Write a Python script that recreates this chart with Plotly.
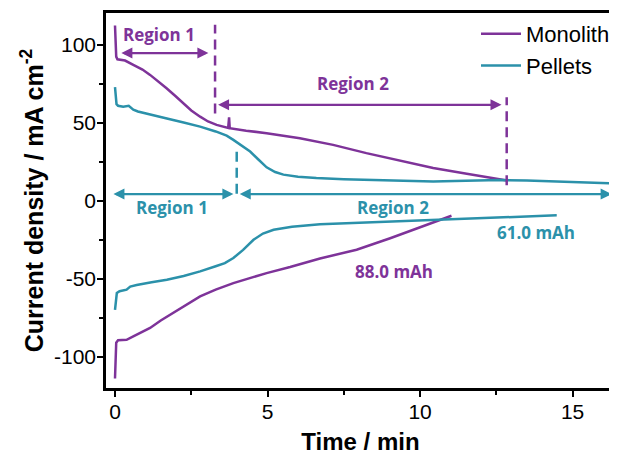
import plotly.graph_objects as go

# ---- data ----
mono_charge_t = [0.0, 0.02, 0.04, 0.08, 0.33, 0.6, 0.9, 1.15, 1.42, 1.69, 1.97, 2.24, 2.5, 2.79, 3.05,
                 3.33, 3.71, 3.74, 3.76, 4.3, 4.97, 6.06, 7.15, 8.24, 9.34, 10.43, 11.53, 12.62, 12.85]
mono_charge_j = [112.5, 100, 92.5, 90.8, 90.0, 87.2, 84.2, 80.8, 76.7, 72.2, 67.4, 62.6, 58.0, 54.0, 50.9,
                 48.7, 46.8, 53.5, 46.6, 45.0, 43.4, 40.2, 35.9, 30.6, 25.8, 21.0, 17.3, 13.9, 13.0]

pel_charge_t = [0.0, 0.02, 0.05, 0.1, 0.27, 0.45, 0.6, 0.75, 1.2, 1.7, 2.25, 2.79, 3.3, 3.66, 3.88,
                4.1, 4.43, 4.7, 4.97, 5.25, 5.52, 6.0, 6.6, 7.5, 8.24, 9.34, 10.43, 11.5, 12.62,
                13.5, 14.5, 15.5, 16.2]
pel_charge_j = [73.0, 66.0, 62.0, 61.0, 60.3, 60.9, 58.5, 57.3, 55.0, 52.8, 50.2, 47.6, 44.5, 41.8, 39.1,
                36.0, 31.6, 26.5, 21.5, 18.5, 16.8, 15.5, 14.6, 13.9, 13.5, 12.8, 12.4, 12.9, 13.3,
                13.0, 12.2, 11.6, 11.3]

mono_dis_t = [0.0, 0.02, 0.04, 0.1, 0.38, 0.6, 1.15, 1.5, 1.9, 2.3, 2.79, 3.3, 3.88, 4.97, 5.74, 6.72,
              7.92, 9.02, 10.1, 11.03]
mono_dis_j = [-114, -100, -91, -89.5, -89.2, -87.0, -81.6, -76.8, -72.0, -67.0, -61.3, -57.0, -52.8,
              -46.4, -42.5, -37.0, -31.4, -24.0, -16.5, -9.6]

pel_dis_t = [0.0, 0.03, 0.06, 0.15, 0.38, 0.5, 0.71, 1.2, 1.7, 2.25, 2.79, 3.3, 3.6, 3.88, 4.2, 4.54,
             4.85, 5.2, 5.8, 6.72, 8.0, 9.5, 10.1, 11.0, 12.5, 13.5, 14.48]
pel_dis_j = [-70, -62, -59.2, -58.0, -57.0, -55.0, -54.0, -52.3, -50.6, -48.2, -45.3, -42.0, -40.0,
             -36.7, -31.5, -25.0, -21.0, -18.6, -16.7, -15.0, -14.0, -13.0, -12.8, -11.8, -10.8,
             -10.0, -9.3]

# region boundaries (min) and capacities
mono_bounds = [0.16, 3.28, 12.84]
pel_bounds = [-0.1, 3.99, 16.3]
mono_capacity = "88.0 mAh"
pel_capacity = "61.0 mAh"

x_ticks = [0, 5, 10, 15]
y_ticks = [-100, -50, 0, 50, 100]

PURPLE = "#7E3399"
TEAL = "#2B91AA"
FONT = "Liberation Sans, Arial, sans-serif"
ANN_FONT = "Open Sans, sans-serif"

fig = go.Figure()
fig.add_trace(go.Scatter(x=mono_charge_t, y=mono_charge_j, mode="lines", name="Monolith",
                         line=dict(color=PURPLE, width=2.5), legendgroup="m"))
fig.add_trace(go.Scatter(x=pel_charge_t, y=pel_charge_j, mode="lines", name="Pellets",
                         line=dict(color=TEAL, width=2.5), legendgroup="p"))
fig.add_trace(go.Scatter(x=mono_dis_t, y=mono_dis_j, mode="lines", name="Monolith",
                         line=dict(color=PURPLE, width=2.5), legendgroup="m", showlegend=False))
fig.add_trace(go.Scatter(x=pel_dis_t, y=pel_dis_j, mode="lines", name="Pellets",
                         line=dict(color=TEAL, width=2.5), legendgroup="p", showlegend=False))

# dashed region boundaries
dash = "10px,6px"
fig.add_shape(type="line", x0=mono_bounds[1], x1=mono_bounds[1], y0=56, y1=113,
              line=dict(color=PURPLE, width=2.5, dash=dash))
fig.add_shape(type="line", x0=mono_bounds[2], x1=mono_bounds[2], y0=10, y1=66.5,
              line=dict(color=PURPLE, width=2.5, dash=dash))
fig.add_shape(type="line", x0=pel_bounds[1], x1=pel_bounds[1], y0=4.5, y1=32.7,
              line=dict(color=TEAL, width=2.5, dash=dash))
fig.add_shape(type="line", x0=pel_bounds[2], x1=pel_bounds[2], y0=4.3, y1=31.6,
              line=dict(color=TEAL, width=2.5, dash=dash))

def double_arrow(x0, x1, y, color):
    fig.add_annotation(x=x1, y=y, ax=x0, ay=y, xref="x", yref="y", axref="x", ayref="y",
                       text="", showarrow=True, arrowside="end+start", arrowhead=2,
                       arrowsize=1, arrowwidth=2.2, arrowcolor=color, standoff=0, startstandoff=0)

double_arrow(mono_bounds[0], mono_bounds[1] - 0.22, 94.8, PURPLE)
double_arrow(mono_bounds[1] + 0.05, mono_bounds[2] - 0.17, 61.6, PURPLE)
double_arrow(pel_bounds[0], pel_bounds[1] - 0.11, 4.3, TEAL)
double_arrow(pel_bounds[1] + 0.05, pel_bounds[2] - 0.02, 4.3, TEAL)

def label(x, y, text, color):
    fig.add_annotation(x=x, y=y, xref="x", yref="y", text="<b>%s</b>" % text, showarrow=False,
                       font=dict(family=ANN_FONT, size=17, color=color))

label(1.44, 106.5, "Region 1", PURPLE)
label(7.8, 75.0, "Region 2", PURPLE)
label(1.87, -4.5, "Region 1", TEAL)
label(9.1, -4.5, "Region 2", TEAL)
label(13.79, -20.5, pel_capacity, TEAL)
label(9.15, -45.5, mono_capacity, PURPLE)

axis_common = dict(showline=True, linewidth=2.5, linecolor="black", mirror=True,
                   ticks="outside", ticklen=6, tickwidth=2.2, tickcolor="black",
                   showgrid=False, zeroline=False, automargin=False,
                   tickfont=dict(family=FONT, size=21, color="black"))

fig.update_xaxes(range=[-0.295, 16.39], tickvals=x_ticks, ticktext=[str(v) for v in x_ticks],
                 minor=dict(ticks="outside", ticklen=4, tickwidth=2, tickcolor="black",
                            tick0=0, dtick=2.5),
                 ticklabelstandoff=-3,
                 title=dict(text="<b>Time / min</b>", font=dict(family=FONT, size=24, color="black"),
                            standoff=12),
                 **axis_common)
fig.update_yaxes(range=[-120.1, 120.5], tickvals=y_ticks, ticktext=[str(v) for v in y_ticks],
                 minor=dict(ticks="outside", ticklen=4, tickwidth=2, tickcolor="black",
                            tick0=0, dtick=25),
                 ticklabelstandoff=-3,
                 title=dict(text="<b>Current density / mA cm<sup>-2</sup></b>",
                            font=dict(family=FONT, size=25, color="black"), standoff=4),
                 **axis_common)

# the page body adds an 8px offset, so the figure is sized to fill the rest of the window
fig.update_layout(
    width=609, height=448,
    margin=dict(l=98, r=2, t=5, b=68, autoexpand=False),
    paper_bgcolor="white", plot_bgcolor="white",
    showlegend=True,
    legend=dict(x=1.0, y=1.0, xanchor="right", yanchor="top", bgcolor="rgba(0,0,0,0)",
                font=dict(family=FONT, size=22, color="black"), tracegroupgap=0,
                itemwidth=40),
)

fig.write_html("out.html")
